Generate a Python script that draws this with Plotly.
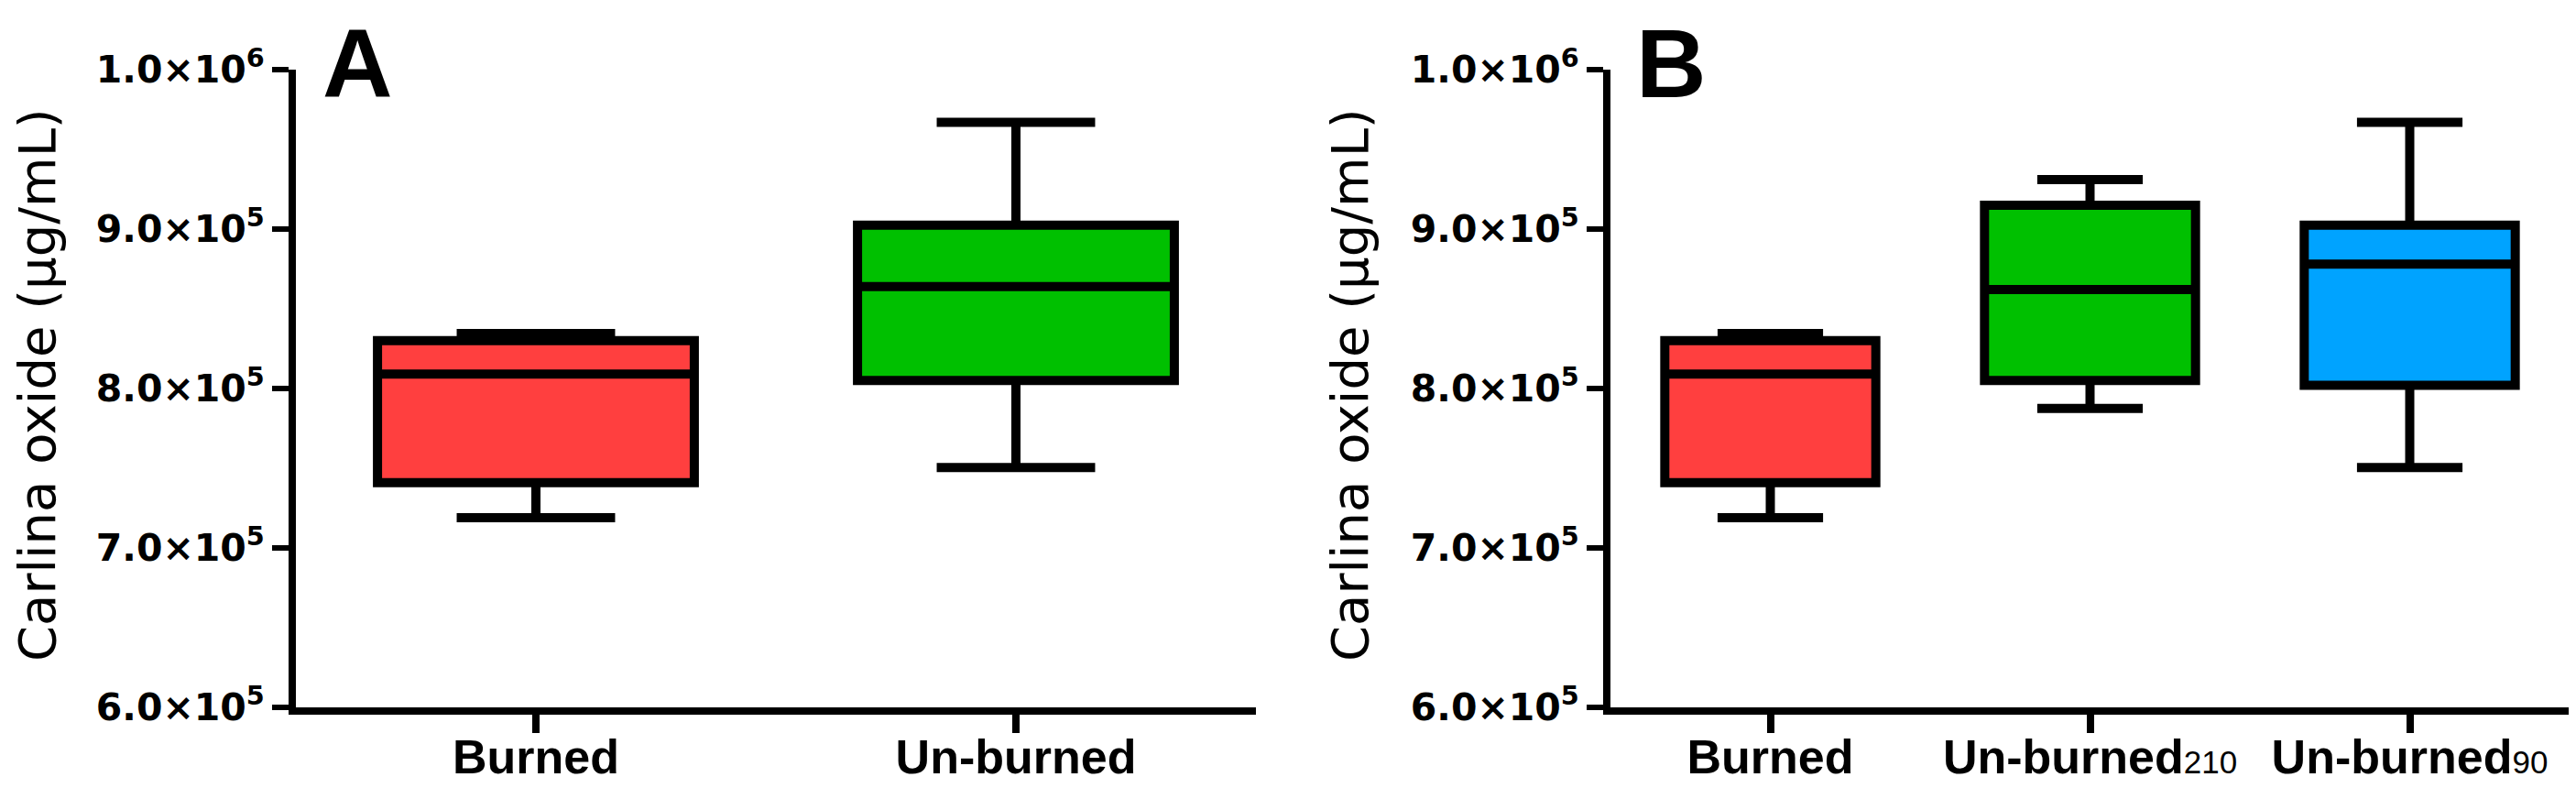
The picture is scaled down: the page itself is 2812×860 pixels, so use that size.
import plotly.graph_objects as go

# ---- data ----
groups_A = ["Burned", "Un-burned"]
A_min = [719000, 750500]
A_q1 = [741000, 805000]
A_med = [809000, 864000]
A_q3 = [830000, 902500]
A_max = [834500, 967000]
colors_A = ["#FF3F3F", "#00C000"]

groups_B = ["Burned", "Un-burned210", "Un-burned90"]
B_min = [719000, 787500, 750500]
B_q1 = [741000, 805000, 802000]
B_med = [809000, 862000, 878000]
B_q3 = [830000, 915000, 902500]
B_max = [834500, 931000, 967000]
colors_B = ["#FF3F3F", "#00C000", "#00A3FF"]

ticktext_A = ["Burned", "Un-burned"]
ticktext_B = [
    "Burned",
    "Un-burned<span style='font-weight:normal;font-size:35px'>210</span>",
    "Un-burned<span style='font-weight:normal;font-size:35px'>90</span>",
]
y_tickvals = [600000, 700000, 800000, 900000, 1000000]
y_ticktext = ["6.0×10<sup>5</sup>", "7.0×10<sup>5</sup>", "8.0×10<sup>5</sup>",
              "9.0×10<sup>5</sup>", "1.0×10<sup>6</sup>"]
y_title = "Carlina oxide (μg/mL)"

W, H = 2812, 860
fig = go.Figure()

def add_boxes(groups, mn, q1, med, q3, mx, colors, xa, ya):
    for g, a, b, c, d, e, col in zip(groups, mn, q1, med, q3, mx, colors):
        fig.add_trace(go.Box(
            x=[g], lowerfence=[a], q1=[b], median=[c], q3=[d], upperfence=[e],
            fillcolor=col, line=dict(color="black", width=10),
            width=0.66, whiskerwidth=0.5, boxpoints=False,
            xaxis=xa, yaxis=ya, hoverinfo="skip", showlegend=False,
        ))

add_boxes(groups_A, A_min, A_q1, A_med, A_q3, A_max, colors_A, "x", "y")
add_boxes(groups_B, B_min, B_q1, B_med, B_q3, B_max, colors_B, "x2", "y2")

ydom = [(H - 764) / H, (H - 68) / H]

xcommon = dict(type="category", showline=True, linewidth=8, linecolor="black",
               ticks="outside", ticklen=20, tickwidth=8, tickcolor="black",
               showgrid=False, zeroline=False, automargin=False,
               ticklabelstandoff=-18,
               tickfont=dict(family="Liberation Sans", size=52, color="black", weight="bold"))
ycommon = dict(range=[600000, 1000000], showline=True, linewidth=8, linecolor="black",
               ticks="outside", ticklen=18, tickwidth=6, tickcolor="black",
               showgrid=False, zeroline=False, automargin=False,
               tickvals=y_tickvals, ticktext=y_ticktext,
               tickfont=dict(family="DejaVu Sans", size=41, color="black", weight="bold"))

fig.update_layout(
    width=W, height=H,
    margin=dict(l=0, r=0, t=0, b=0, autoexpand=False),
    paper_bgcolor="white", plot_bgcolor="white",
    boxmode="overlay", showlegend=False,
    xaxis=dict(domain=[315 / W, 1363 / W], range=[-0.5, 1.5],
               categoryorder="array", categoryarray=groups_A,
               tickvals=groups_A, ticktext=ticktext_A, anchor="y", **xcommon),
    yaxis=dict(domain=ydom, anchor="x", **ycommon),
    xaxis2=dict(domain=[1750 / W, 2797 / W], range=[-0.5, 2.5],
                categoryorder="array", categoryarray=groups_B,
                tickvals=groups_B, ticktext=ticktext_B, anchor="y2", **xcommon),
    yaxis2=dict(domain=ydom, anchor="x2", **ycommon),
)

ann_font = dict(family="DejaVu Sans", size=56, color="black")
for xc in (32, 1465):
    fig.add_annotation(text=y_title, textangle=-90, xref="paper", yref="paper",
                       x=xc / W, y=(H - 412) / H, xanchor="center", yanchor="middle",
                       showarrow=False, font=ann_font)

lab_font = dict(family="Liberation Sans", size=106, color="black", weight="bold")
for txt, xl in (("A", 342), ("B", 1776)):
    fig.add_annotation(text=txt, xref="paper", yref="paper", x=xl / W, y=(H - 61) / H,
                       xanchor="left", yanchor="middle", showarrow=False, font=lab_font)

fig.write_html("out.html")
